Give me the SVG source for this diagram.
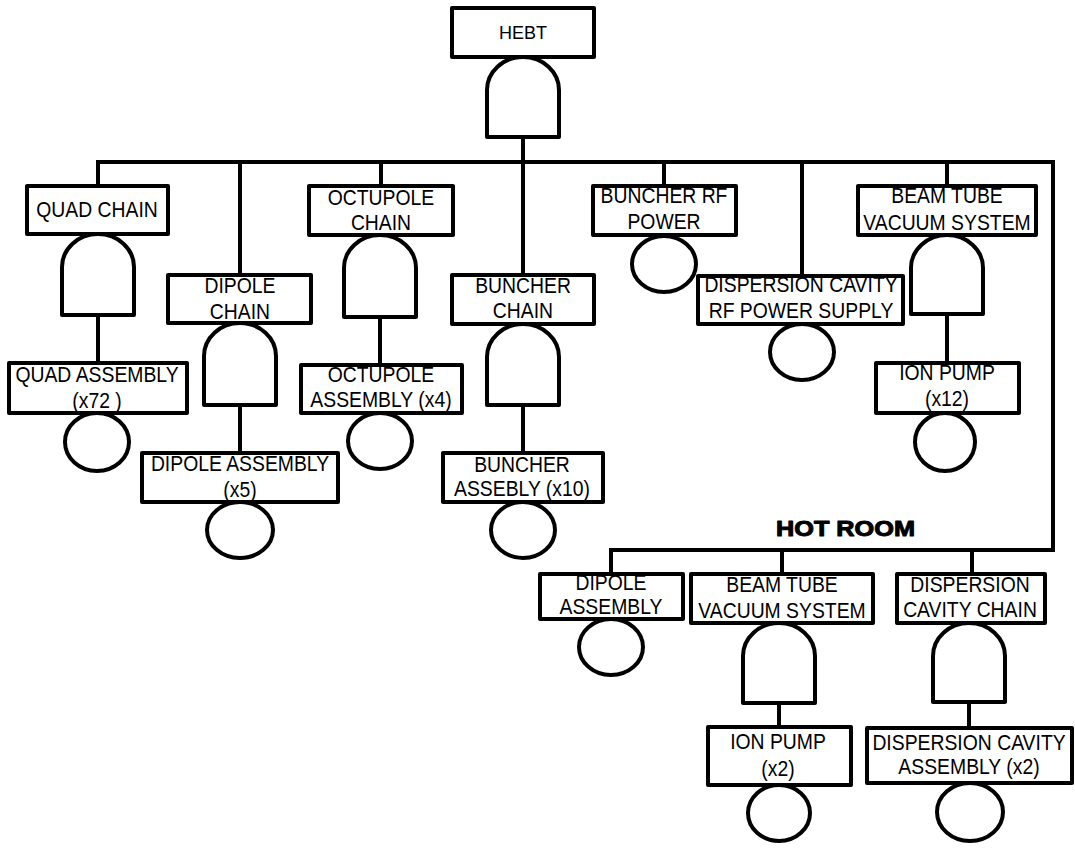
<svg xmlns="http://www.w3.org/2000/svg" width="1075" height="848" viewBox="0 0 1075 848">
<style>
.box{fill:#fff;stroke:#000;stroke-width:4;stroke-linejoin:round}
.gate{fill:#fff;stroke:#000;stroke-width:4;stroke-linejoin:round}
.evt{fill:#fff;stroke:#000;stroke-width:4}
.ln{fill:none;stroke:#000;stroke-width:4;stroke-linecap:square;stroke-linejoin:miter}
.lbl{font-family:"Liberation Sans",Arial,sans-serif;font-size:22px;text-anchor:middle;fill:#000;transform-box:fill-box;transform-origin:center;transform:scaleX(0.88)}
.top{font-family:"Liberation Sans",Arial,sans-serif;font-size:18px;text-anchor:middle;fill:#000}
.hot{font-family:"Liberation Sans",Arial,sans-serif;font-size:22px;font-weight:bold;fill:#000;stroke:#000;stroke-width:1;stroke-linejoin:round}
</style>
<rect width="1075" height="848" fill="#fff"/>
<g id="connectors">
<path class="ln" d="M98 162 H1053 V550 H611"/>
<path class="ln" d="M98 162 V186 M240 162 V275 M381 162 V186 M523 137 V275 M664 162 V186 M802 162 V276 M947 162 V186"/>
<path class="ln" d="M611 550 V574 M782 550 V574 M972 550 V574"/>
<path class="ln" d="M98 315 V363 M240 405 V453 M380 317 V365 M523 405 V453 M947 314 V363 M779 703 V727 M969 702 V728"/>
</g>
<g id="hebt">
<rect class="box" x="452" y="8" width="142" height="49"/>
<text class="top" x="523" y="39">HEBT</text>
<path class="gate" d="M487 137 V90 A36 33 0 0 1 559 90 V137 Z"/>
</g>
<g id="quad-chain">
<rect class="box" x="27" y="186" width="141" height="48"/>
<text class="lbl" x="97" y="217">QUAD CHAIN</text>
<path class="gate" d="M62 315 V267 A36 33 0 0 1 134 267 V315 Z"/>
</g>
<g id="quad-assembly">
<rect class="box" x="9" y="363" width="178" height="50"/>
<text class="lbl" x="97" y="382">QUAD ASSEMBLY<tspan x="97" y="408">(x72 )</tspan></text>
<ellipse class="evt" cx="97" cy="442" rx="32" ry="29"/>
</g>
<g id="dipole-chain">
<rect class="box" x="168" y="275" width="143" height="48"/>
<text class="lbl" x="240" y="293">DIPOLE<tspan x="240" y="319">CHAIN</tspan></text>
<path class="gate" d="M204 405 V356 A36 33 0 0 1 276 356 V405 Z"/>
</g>
<g id="dipole-assembly">
<rect class="box" x="142" y="453" width="196" height="49"/>
<text class="lbl" x="240" y="471">DIPOLE ASSEMBLY<tspan x="240" y="497">(x5)</tspan></text>
<ellipse class="evt" cx="240" cy="530" rx="33" ry="28"/>
</g>
<g id="octupole-chain">
<rect class="box" x="309" y="186" width="144" height="49"/>
<text class="lbl" x="381" y="205">OCTUPOLE<tspan x="381" y="230">CHAIN</tspan></text>
<path class="gate" d="M344 317 V268 A36 33 0 0 1 416 268 V317 Z"/>
</g>
<g id="octupole-assembly">
<rect class="box" x="301" y="365" width="161" height="48"/>
<text class="lbl" x="381" y="382">OCTUPOLE<tspan x="381" y="407">ASSEMBLY (x4)</tspan></text>
<ellipse class="evt" cx="380" cy="441" rx="32" ry="28"/>
</g>
<g id="buncher-chain">
<rect class="box" x="452" y="275" width="142" height="49"/>
<text class="lbl" x="523" y="293">BUNCHER<tspan x="523" y="318">CHAIN</tspan></text>
<path class="gate" d="M487 405 V357 A36 33 0 0 1 559 357 V405 Z"/>
</g>
<g id="buncher-assembly">
<rect class="box" x="443" y="453" width="160" height="49"/>
<text class="lbl" x="522" y="472">BUNCHER<tspan x="522" y="496">ASSEBLY (x10)</tspan></text>
<ellipse class="evt" cx="523" cy="530" rx="32" ry="28"/>
</g>
<g id="buncher-rf-power">
<rect class="box" x="593" y="186" width="143" height="49"/>
<text class="lbl" x="664" y="203">BUNCHER RF<tspan x="664" y="229">POWER</tspan></text>
<ellipse class="evt" cx="664" cy="264" rx="32" ry="28"/>
</g>
<g id="dispersion-rf-supply">
<rect class="box" x="698" y="276" width="205" height="48"/>
<text class="lbl" x="801" y="292">DISPERSION CAVITY<tspan x="801" y="318">RF POWER SUPPLY</tspan></text>
<ellipse class="evt" cx="802" cy="352" rx="32" ry="28"/>
</g>
<g id="beam-tube-vacuum">
<rect class="box" x="858" y="186" width="178" height="49"/>
<text class="lbl" x="947" y="203">BEAM TUBE<tspan x="947" y="230">VACUUM SYSTEM</tspan></text>
<path class="gate" d="M911 314 V268 A36 33 0 0 1 983 268 V314 Z"/>
</g>
<g id="ion-pump-x12">
<rect class="box" x="876" y="363" width="143" height="50"/>
<text class="lbl" x="947" y="380">ION PUMP<tspan x="947" y="406">(x12)</tspan></text>
<ellipse class="evt" cx="945" cy="442" rx="30" ry="29"/>
</g>
<g id="hot-room-label">
<text class="hot" x="776" y="536" textLength="139" lengthAdjust="spacingAndGlyphs">HOT ROOM</text>
</g>
<g id="hot-dipole-assembly">
<rect class="box" x="540" y="574" width="143" height="45"/>
<text class="lbl" x="611" y="590">DIPOLE<tspan x="611" y="614">ASSEMBLY</tspan></text>
<ellipse class="evt" cx="611" cy="647" rx="32" ry="28"/>
</g>
<g id="hot-beam-tube-vacuum">
<rect class="box" x="691" y="574" width="182" height="49"/>
<text class="lbl" x="782" y="592">BEAM TUBE<tspan x="782" y="618">VACUUM SYSTEM</tspan></text>
<path class="gate" d="M743 703 V656 A36 33 0 0 1 815 656 V703 Z"/>
</g>
<g id="hot-ion-pump-x2">
<rect class="box" x="708" y="727" width="143" height="58"/>
<text class="lbl" x="778" y="749">ION PUMP<tspan x="778" y="776">(x2)</tspan></text>
<ellipse class="evt" cx="779" cy="813" rx="31" ry="28"/>
</g>
<g id="hot-dispersion-chain">
<rect class="box" x="897" y="574" width="148" height="49"/>
<text class="lbl" x="970" y="592">DISPERSION<tspan x="970" y="617">CAVITY CHAIN</tspan></text>
<path class="gate" d="M933 702 V656 A36 33 0 0 1 1005 656 V702 Z"/>
</g>
<g id="hot-dispersion-assembly">
<rect class="box" x="867" y="728" width="205" height="55"/>
<text class="lbl" x="969" y="750">DISPERSION CAVITY<tspan x="969" y="774">ASSEMBLY (x2)</tspan></text>
<ellipse class="evt" cx="970" cy="812" rx="33" ry="29"/>
</g>
</svg>
